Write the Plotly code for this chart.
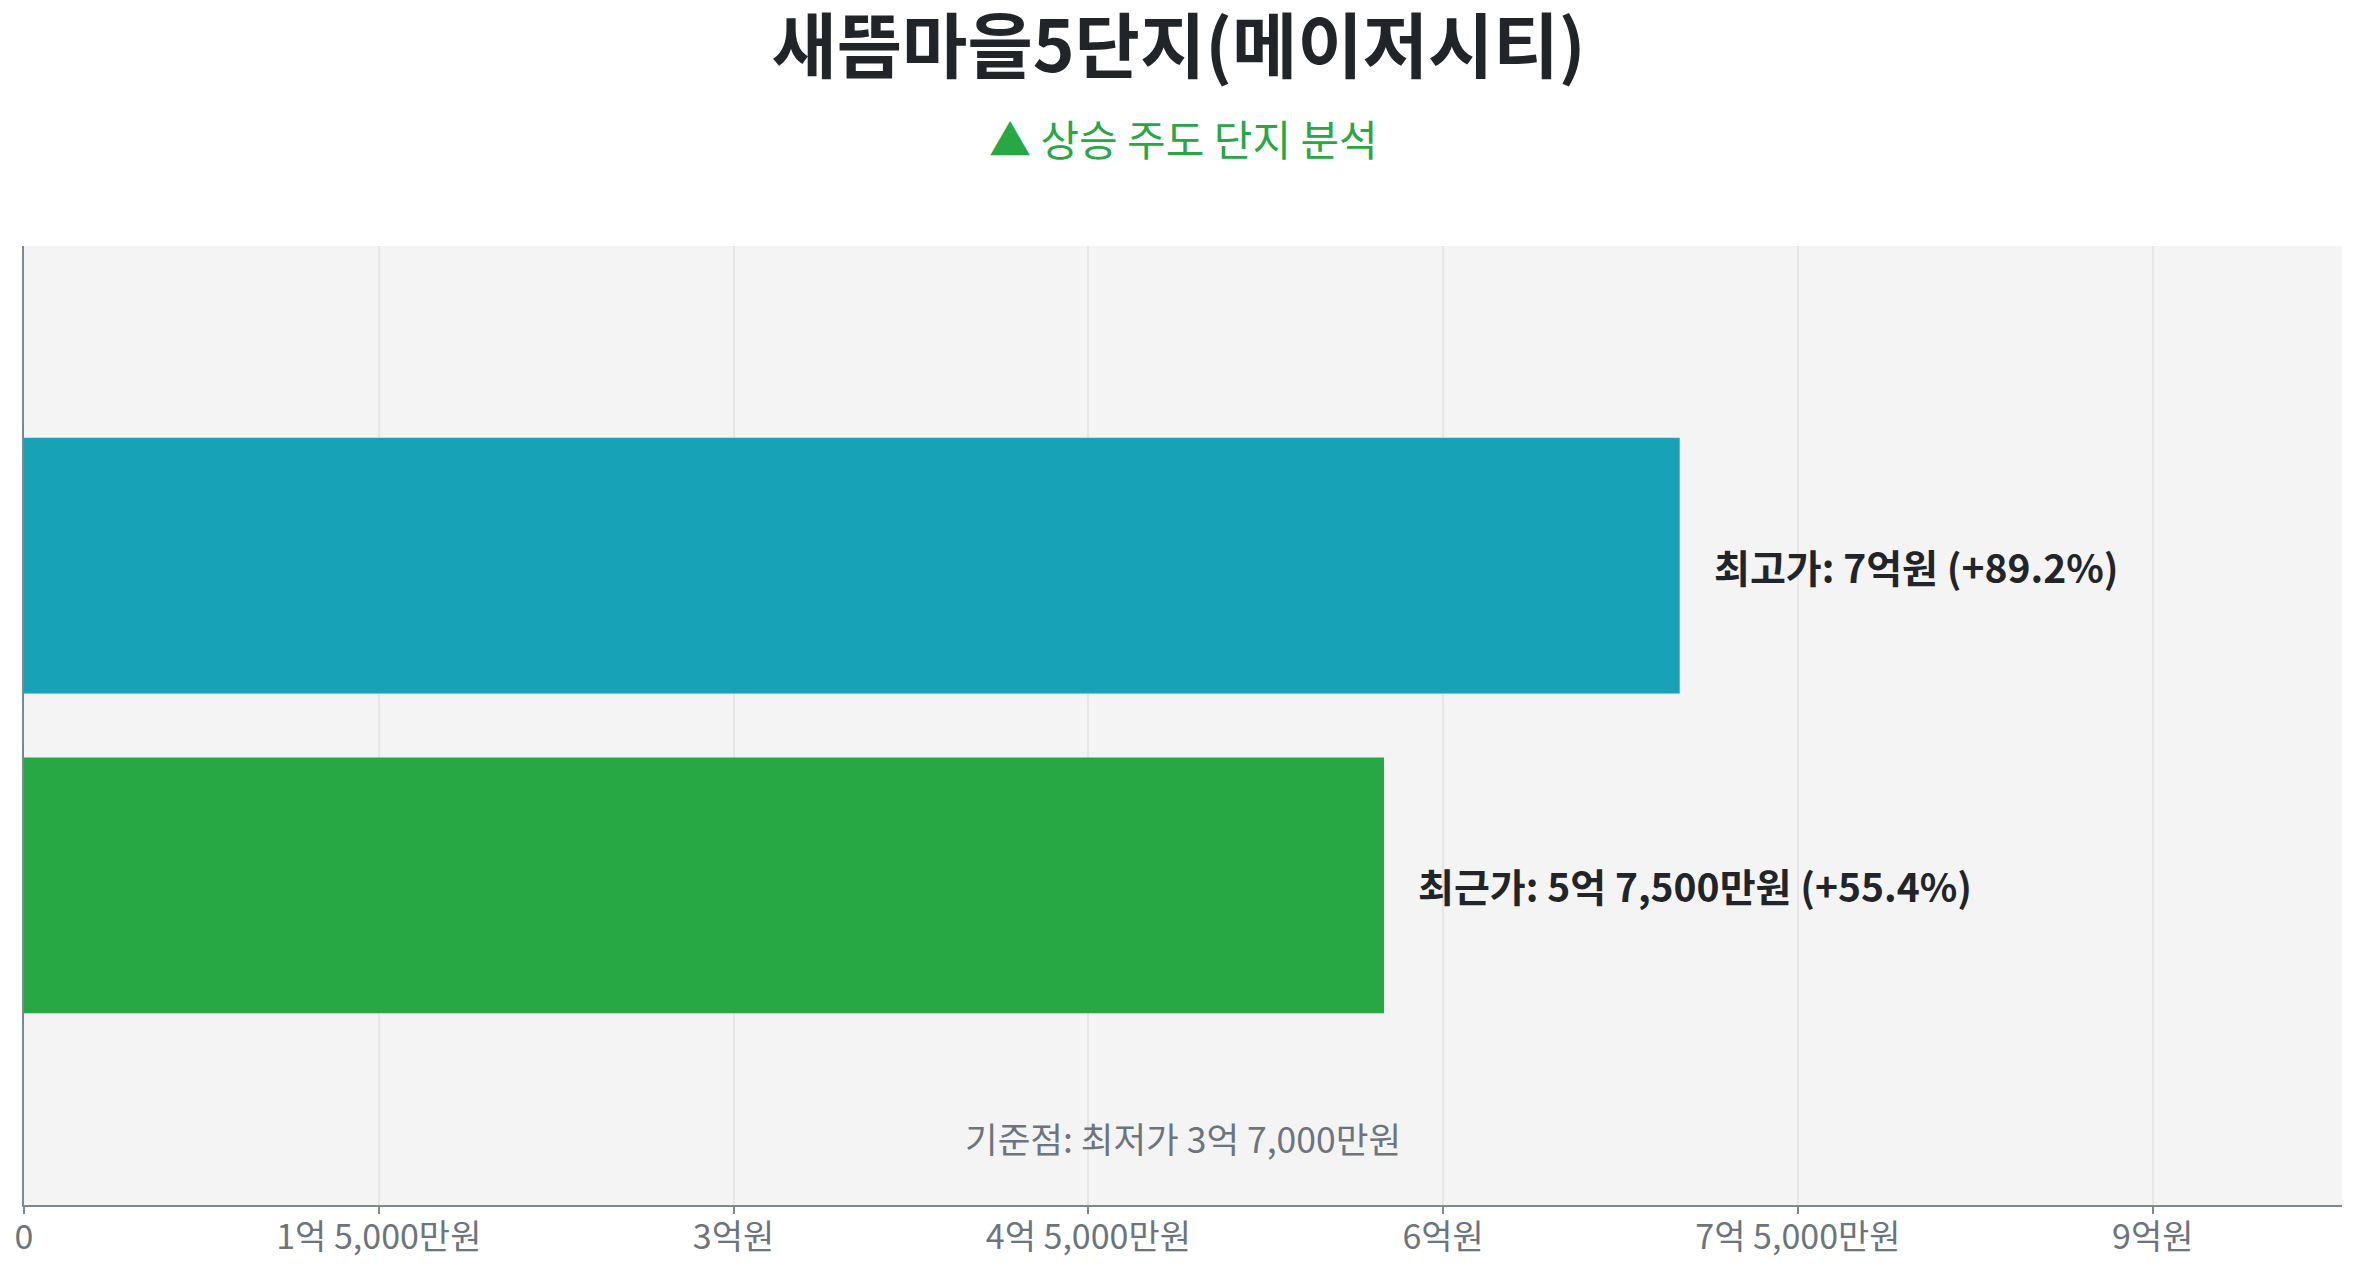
import plotly.graph_objects as go

categories = ["최근가", "최고가"]
values = [575000000, 700000000]
bar_colors = ["#28a745", "#17a2b8"]
bar_labels = ["최근가: 5억 7,500만원 (+55.4%)", "최고가: 7억원 (+89.2%)"]
tick_vals = [0, 150000000, 300000000, 450000000, 600000000, 750000000, 900000000]
tick_text = ["0", "1억 5,000만원", "3억원", "4억 5,000만원", "6억원", "7억 5,000만원", "9억원"]
x_max = 980000000
title_text = "새뜸마을5단지(메이저시티)"
subtitle_text = "▲ 상승 주도 단지 분석"
base_note = "기준점: 최저가 3억 7,000만원"

FONT = "Noto Sans CJK KR"
W, H = 2341, 1253

fig = go.Figure()
fig.add_trace(go.Bar(
    x=values, y=categories, orientation="h",
    marker=dict(color=bar_colors, line=dict(width=0)),
    width=0.8, hoverinfo="skip", showlegend=False,
))

for v, c, lab in zip(values, categories, bar_labels):
    fig.add_annotation(x=v, y=c, xref="x", yref="y", text="<b>" + lab + "</b>",
                       showarrow=False, xanchor="left", yanchor="middle", xshift=32,
                       font=dict(family=FONT, size=39, color="#212529"))

fig.add_annotation(x=0.5, y=0.07, xref="paper", yref="paper", text=base_note,
                   showarrow=False, xanchor="center", yanchor="middle",
                   font=dict(family=FONT, size=35.5, color="#6c757d"))

fig.add_annotation(x=0.5, y=1.1135, xref="paper", yref="paper", text=subtitle_text,
                   showarrow=False, xanchor="center", yanchor="middle",
                   font=dict(family=FONT, size=42, color="#28a745"))

fig.update_layout(
    width=W, height=H, autosize=False,
    margin=dict(l=16, r=7, t=238, b=56),
    paper_bgcolor="white", plot_bgcolor="#f4f4f4",
    title=dict(text="<b>" + title_text + "</b>", x=0.5, xref="container", xanchor="center",
               y=1 - 39 / H, yref="container", yanchor="middle",
               font=dict(family=FONT, size=71, color="#212529")),
    bargap=0.2,
)
fig.update_xaxes(range=[0, x_max], tickvals=tick_vals, ticktext=tick_text,
                 showgrid=True, gridcolor="#e6e6e6", gridwidth=2,
                 showline=True, linecolor="#7f8790", linewidth=2,
                 ticks="outside", ticklen=7, tickwidth=2, tickcolor="#7f8790",
                 ticklabelstandoff=-6, automargin=False,
                 tickfont=dict(family=FONT, size=34, color="#6c757d"), zeroline=False)
fig.update_yaxes(range=[-1, 2], showticklabels=False, showgrid=False, automargin=False,
                 showline=True, linecolor="#7f8790", linewidth=2, zeroline=False, ticks="")

fig.write_html("out.html")
